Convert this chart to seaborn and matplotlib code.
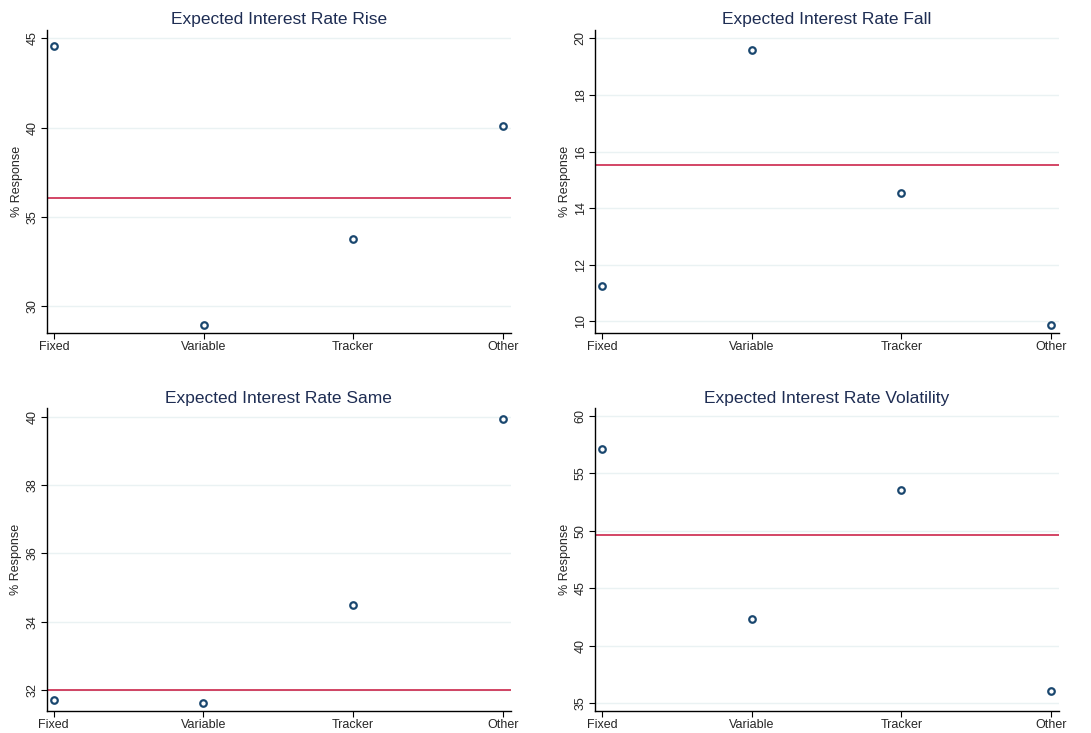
import pandas as pd
import matplotlib
matplotlib.use("Agg")
import matplotlib.pyplot as plt
import seaborn as sns

# Data
MORTGAGE_TYPES = ["Fixed", "Variable", "Tracker", "Other"]
TITLES = ["Expected Interest Rate Rise", "Expected Interest Rate Fall",
          "Expected Interest Rate Same", "Expected Interest Rate Volatility"]
RISE = [44.6, 28.94, 33.78, 40.12]
FALL = [11.26, 19.58, 14.55, 9.88]
SAME = [31.70, 31.62, 34.48, 39.93]
VOLATILITY = [57.14, 42.30, 53.52, 36.07]
AVERAGES = [36.06, 15.51, 32.0, 49.65]
YTICKS = [[30, 35, 40, 45], [10, 12, 14, 16, 18, 20],
          [32, 34, 36, 38, 40], [35, 40, 45, 50, 55, 60]]
YLIMS = [(28.49, 45.47), (9.59, 20.29), (31.39, 40.25), (34.30, 60.67)]

MARKER_COLOR = "#1a476f"
LINE_COLOR = "#c8143c"
TITLE_COLOR = "#1e2d53"
GRID_COLOR = "#eaf2f3"

sns.set_style("ticks")
plt.rcParams['font.family'] = ['Liberation Sans', 'DejaVu Sans']

fig = plt.figure(figsize=(10.91, 7.33), dpi=100)
boxes = [
    [0.0431, 0.5457, 0.4250, 0.4133],
    [0.5454, 0.5457, 0.4253, 0.4133],
    [0.0428, 0.0300, 0.4253, 0.4130],
    [0.5454, 0.0300, 0.4253, 0.4130],
]
series = [RISE, FALL, SAME, VOLATILITY]

for i, box in enumerate(boxes):
    ax = fig.add_axes(box)
    df = pd.DataFrame({"pos": range(1, len(MORTGAGE_TYPES) + 1),
                       "type": MORTGAGE_TYPES,
                       "value": series[i]})
    ax.axhline(AVERAGES[i], color=LINE_COLOR, linewidth=1.1, zorder=2)
    sns.scatterplot(data=df, x="pos", y="value", ax=ax, marker="o",
                    s=22, facecolor="white", edgecolor=MARKER_COLOR,
                    linewidth=1.6, zorder=3)
    ax.set_xlim(0.953, 4.053)
    ax.set_ylim(*YLIMS[i])
    ax.set_xticks(df["pos"])
    ax.set_xticklabels(MORTGAGE_TYPES, fontsize=9)
    ax.set_yticks(YTICKS[i])
    ax.set_yticklabels([str(t) for t in YTICKS[i]], fontsize=9,
                       rotation=90, va="center")
    ax.grid(axis="y", color=GRID_COLOR, linewidth=1.0, zorder=0)
    ax.set_axisbelow(True)
    ax.tick_params(axis="both", length=4, width=0.8, color="black", pad=2)
    ax.set_xlabel("")
    ax.set_ylabel("% Response", fontsize=9, labelpad=3)
    ax.set_title(TITLES[i], fontsize=12.5, color=TITLE_COLOR, pad=4)
    sns.despine(ax=ax)
    for side in ["left", "bottom"]:
        ax.spines[side].set_linewidth(1.0)
        ax.spines[side].set_color("black")

fig.savefig("out.png", dpi=100, facecolor="white")
